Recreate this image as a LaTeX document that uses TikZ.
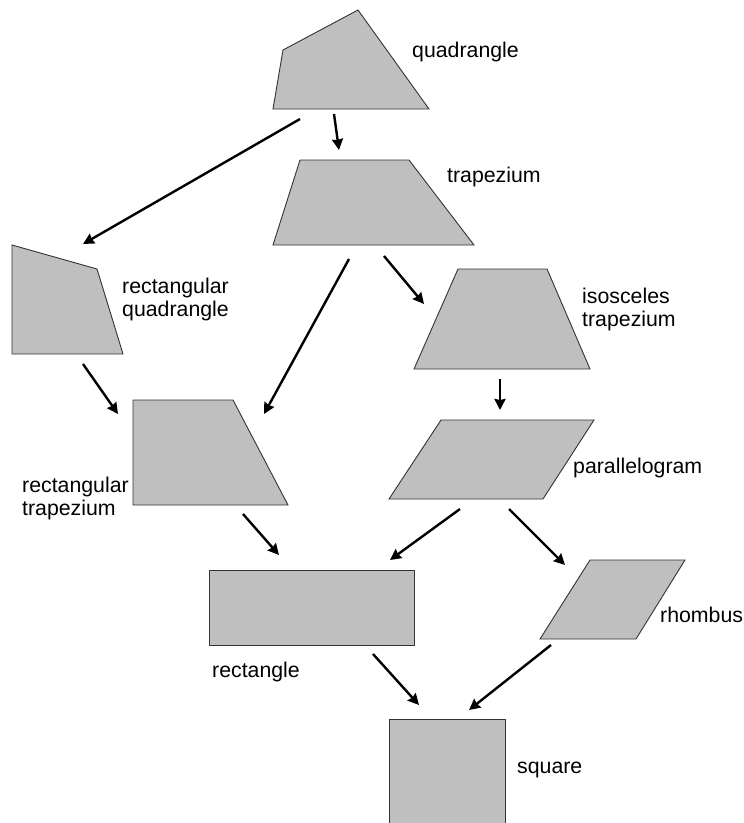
\documentclass[tikz,border=0pt]{standalone}
\usepackage{fontspec}
\setmainfont{Liberation Sans}
\usetikzlibrary{arrows.meta}

\tikzset{
  figure/.style={fill=black!25, draw=black!80, line width=0.9bp},
  link/.style={line width=2.4bp, -{Stealth[length=11bp,width=11bp,inset=1bp]}},
  lbl/.style={font=\fontsize{21.3bp}{23bp}\selectfont, inner sep=0pt, anchor=base west, align=left}
}

\begin{document}
\begin{tikzpicture}[x=1bp,y=-1bp]

    % Fix the page size
    \useasboundingbox (0,0) rectangle (744,823);

    % Draw the shapes
    \filldraw[figure] (273,109) -- (283,50) -- (358,10) -- (429,109) -- cycle;   % Quadrangle
    \filldraw[figure] (273,245) -- (300,160) -- (409,160) -- (474,245) -- cycle; % Trapezium
    \filldraw[figure] (12,354) -- (12,245) -- (97,269) -- (123,354) -- cycle;    % Rectangular quadrangle
    \filldraw[figure] (414,369) -- (458,269) -- (547,269) -- (590,369) -- cycle; % Isosceles trapezium
    \filldraw[figure] (133,505) -- (133,400) -- (233,400) -- (288,505) -- cycle; % Rectangular trapezium
    \filldraw[figure] (389,499) -- (441,420) -- (594,420) -- (543,499) -- cycle; % Parallelogram
    \filldraw[figure] (209,570) rectangle (414,645);                             % Rectangle
    \filldraw[figure] (540,639) -- (590,560) -- (685,560) -- (636,639) -- cycle; % Rhombus
    \filldraw[figure] (389,719) rectangle (505,828);                             % Square

    % Define the end points of the arrows
    \coordinate (quadA) at (300,119);   \coordinate (rquadB) at (83,244);
    \coordinate (quadC) at (334,114);   \coordinate (trapB) at (339,150);
    \coordinate (trapA) at (349,259);   \coordinate (rtrapB) at (264,414);
    \coordinate (trapC) at (384,256);   \coordinate (isoB) at (424,304);
    \coordinate (rquadA) at (83,364);   \coordinate (rtrapD) at (118,414);
    \coordinate (isoA) at (500,379);    \coordinate (paraB) at (500,410);
    \coordinate (rtrapA) at (243,514);  \coordinate (rectB) at (279,555);
    \coordinate (paraA) at (460,509);   \coordinate (rectD) at (390,560);
    \coordinate (paraC) at (509,509);   \coordinate (rhombB) at (565,565);
    \coordinate (rectA) at (373,654);   \coordinate (squareB) at (419,705);
    \coordinate (rhombA) at (551,645);  \coordinate (squareD) at (469,710);

    % Draw the arrows
    \draw[link] (quadA) -- (rquadB);
    \draw[link] (quadC) -- (trapB);
    \draw[link] (trapA) -- (rtrapB);
    \draw[link] (trapC) -- (isoB);
    \draw[link] (rquadA) -- (rtrapD);
    \draw[link] (isoA) -- (paraB);
    \draw[link] (rtrapA) -- (rectB);
    \draw[link] (paraA) -- (rectD);
    \draw[link] (paraC) -- (rhombB);
    \draw[link] (rectA) -- (squareB);
    \draw[link] (rhombA) -- (squareD);

    % Label the shapes (two-line labels sit on their last line)
    \node[lbl] (quadlbl) at (412,57) {quadrangle};
    \node[lbl] (traplbl) at (447,182) {trapezium};
    \node[lbl] (rquadlbl) at (122,316) {rectangular\\quadrangle};
    \node[lbl] (isolbl) at (582,326) {isosceles\\trapezium};
    \node[lbl] (paralbl) at (573,473) {parallelogram};
    \node[lbl] (rtraplbl) at (22,515) {rectangular\\trapezium};
    \node[lbl] (rhomblbl) at (660,622) {rhombus};
    \node[lbl] (rectlbl) at (212,677) {rectangle};
    \node[lbl] (squarelbl) at (517,773) {square};

\end{tikzpicture}
\end{document}
